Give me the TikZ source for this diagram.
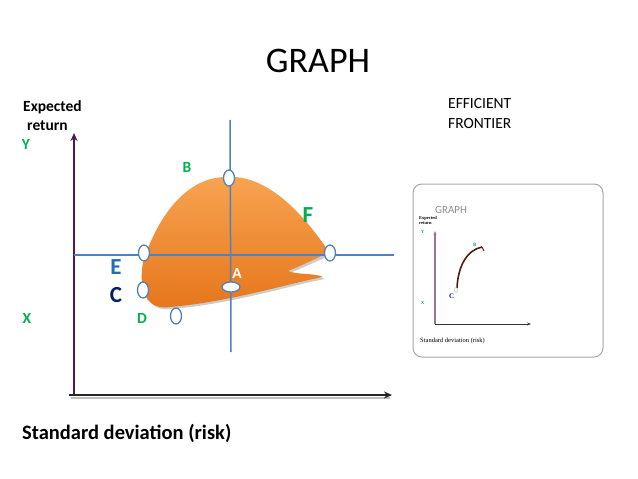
\documentclass[tikz,border=0pt]{standalone}
\usepackage{fontspec}
\setmainfont{Carlito}
\newfontfamily\insetfont{Liberation Serif}
\usetikzlibrary{shapes.geometric,arrows.meta,positioning}
\definecolor{lblgreen}{RGB}{0,176,80}
\definecolor{lblblue}{RGB}{31,110,185}
\definecolor{lblnavy}{RGB}{0,32,96}
\definecolor{gridblue}{RGB}{79,129,189}
\definecolor{axispurple}{RGB}{80,25,85}
\definecolor{fronttop}{RGB}{248,164,82}
\definecolor{frontbot}{RGB}{230,118,28}
\definecolor{curvebrown}{RGB}{75,30,22}
\tikzstyle{knot} = [ellipse, draw=gridblue, fill=white, line width=1.3pt, inner sep=0pt, minimum width=11pt, minimum height=16pt]
\tikzstyle{flatknot} = [knot, minimum width=18pt, minimum height=10pt]
\tikzstyle{pt} = [font=\fontsize{15.5}{15.5}\selectfont\bfseries, text=lblgreen, anchor=base, inner sep=0pt]
\tikzstyle{big} = [font=\fontsize{23}{23}\selectfont\bfseries, anchor=base, inner sep=0pt]
\tikzstyle{axlabel} = [font=\fontsize{15.5}{15.5}\selectfont\bfseries, anchor=base west, inner sep=0pt]
\tikzstyle{tiny} = [font=\insetfont\fontsize{4.5}{5}\selectfont\bfseries, anchor=base west, inner sep=0pt]

\begin{document}
\begin{tikzpicture}[x=1pt, y=-1pt]
\useasboundingbox (0,0) rectangle (638,479);

% titles
\node[anchor=base, inner sep=0pt, font=\fontsize{36}{36}\selectfont] (title) at (318,72) {GRAPH};
\node[anchor=base west, inner sep=0pt, font=\fontsize{15.5}{15.5}\selectfont] (eff) at (448,108) {EFFICIENT};
\node[anchor=base west, inner sep=0pt, font=\fontsize{15.5}{15.5}\selectfont] (front) at (448,128) {FRONTIER};

% axes
\coordinate (origin) at (74,395);
\coordinate (ytip) at (74,133);
\coordinate (xtip) at (392,395);
\coordinate (xstart) at (69,395);
\draw[black!25, line width=2pt] (71,398) -- (390,398);
\draw[axispurple, line width=1.8pt, -{Stealth[length=8pt,width=7pt]}] (origin) -- (ytip);
\draw[black!85, line width=1.8pt, -{Stealth[length=8pt,width=7pt]}] (xstart) -- (xtip);
\node[axlabel] (exp) at (23,111) {Expected};
\node[axlabel] (ret) at (27,130) {return};
\node[pt] (ylbl) at (26,149) {Y};
\node[pt] (xlbl) at (27,323) {X};
\node[anchor=base west, inner sep=0pt, font=\fontsize{20.5}{20.5}\selectfont\bfseries] (sdev) at (22,439) {Standard deviation (risk)};

% feasible region
\path[fill=black!20] (331,255) .. controls (306,218) and (270,176) .. (228,179)
  .. controls (192,179) and (162,212) .. (145,264)
  .. controls (142,282) and (144,297) .. (152,304)
  .. controls (157,309) and (164,310) .. (172,309)
  .. controls (232,304) and (292,285) .. (325,279)
  .. controls (318,275) and (300,277) .. (290,273)
  .. controls (302,268) and (320,260) .. (331,255) -- cycle;
\path[top color=fronttop, bottom color=frontbot] (329,252) .. controls (304,215) and (268,174) .. (226,177)
  .. controls (190,177) and (160,210) .. (143,262)
  .. controls (140,280) and (142,295) .. (150,302)
  .. controls (155,307) and (162,308) .. (170,307)
  .. controls (230,302) and (290,283) .. (323,277)
  .. controls (316,273) and (298,275) .. (288,271)
  .. controls (300,266) and (318,258) .. (329,252) -- cycle;

% grid lines
\coordinate (vtop) at (230,120);
\coordinate (vbot) at (231,352);
\coordinate (hleft) at (74,255);
\coordinate (hright) at (394,255);
\draw[gridblue, line width=1.5pt] (vtop) -- (vbot);
\draw[gridblue, line width=1.5pt] (hleft) -- (hright);

% points
\node[knot] (b) at (229,178) {};
\node[knot] (e) at (144,253) {};
\node[knot] (f) at (330,253) {};
\node[knot] (c) at (143,290) {};
\node[flatknot] (a) at (231,287) {};
\node[knot] (d) at (176,316) {};
\node[pt] (blbl) at (187,172) {B};
\node[pt] (dlbl) at (142,323) {D};
\node[pt, text=white] (albl) at (237,278) {A};
\node[big, text=lblgreen] (flbl) at (308,222) {F};
\node[big, text=lblblue] (elbl) at (116,274) {E};
\node[big, text=lblnavy] (clbl) at (116,302) {C};

% efficient frontier picture
\draw[black!35, line width=1pt, rounded corners=9pt] (413,184) rectangle (603,357);
\node[anchor=base, inner sep=0pt, text=black!45, font=\fontsize{11}{11}\selectfont] (ititle) at (451,213) {GRAPH};
\node[tiny] (iexp) at (419,219) {Expected};
\node[tiny] (iret) at (419,224) {return};
\node[tiny, text=lblgreen] (iy) at (421,233) {Y};
\node[tiny, text=lblgreen] (ix) at (421,304) {X};
\coordinate (iorigin) at (435,324);
\coordinate (iytip) at (435,231);
\coordinate (ixtip) at (531,324);
\draw[axispurple!60, line width=1.2pt, -{Stealth[length=4pt,width=3pt]}] (iorigin) -- (iytip);
\draw[black!80, line width=0.8pt, -{Stealth[length=4pt,width=3pt]}] (iorigin) -- (ixtip);
\coordinate (ic) at (457,288);
\coordinate (ib) at (482,247);
\draw[curvebrown, line width=1.6pt] (ic) .. controls (458,266) and (467,250) .. (ib);
\draw[red!60!black, line width=1pt] (ib) -- (484,251);
\node[ellipse, draw=black!30, fill=white, inner sep=0pt, minimum width=3pt, minimum height=5pt] (icknot) at (456,290) {};
\node[tiny, text=lblnavy, font=\insetfont\fontsize{7}{7}\selectfont\bfseries] (ilc) at (449,298) {C};
\node[tiny, text=lblgreen, font=\insetfont\fontsize{5}{5}\selectfont\bfseries] (ilb) at (473,246) {B};
\node[tiny, font=\insetfont\fontsize{6.5}{7}\selectfont] (isdev) at (420,342) {Standard deviation (risk)};
\end{tikzpicture}
\end{document}
